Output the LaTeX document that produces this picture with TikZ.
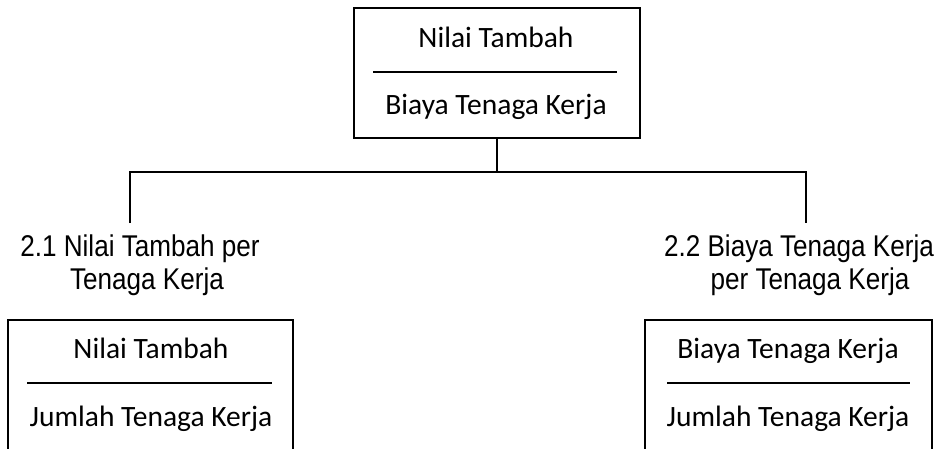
\documentclass[tikz,border=0pt]{standalone}
\usepackage{fontspec}
\setmainfont{Carlito}
\newfontfamily\labfont[FakeStretch=0.87]{Liberation Sans}
\tikzset{
  boxtext/.style={inner sep=0pt, anchor=base, font=\fontsize{29.5}{33}\selectfont},
  labtext/.style={inner sep=0pt, anchor=base, font=\labfont\fontsize{30}{33}\selectfont},
  frame/.style={draw, line width=1.3pt, rectangle, inner sep=0pt},
  conn/.style={line width=1.3pt},
  rulel/.style={line width=1.3pt}
}
\begin{document}
\begin{tikzpicture}[x=1pt,y=1pt]
\useasboundingbox (0,0) rectangle (940,-448);
\clip (0,0) rectangle (940,-448);
% top box
\node[frame, minimum width=286pt, minimum height=130pt] (top) at (497,-73) {};
\node[boxtext] (t1) at (496,-47) {Nilai Tambah};
\node[boxtext] (t2) at (496,-114) {Biaya Tenaga Kerja};
\coordinate (tr1) at (373,-72);
\coordinate (tr2) at (617,-72);
\draw[rulel] (tr1) -- (tr2);
% connectors
\coordinate (jc) at (497,-172);
\coordinate (jl) at (130,-172);
\coordinate (jr) at (806,-172);
\coordinate (el) at (130,-223);
\coordinate (er) at (806,-223);
\draw[conn] (top.south) -- (jc);
\draw[conn] (el) -- (jl) -- (jr) -- (er);
% labels
\node[labtext] (l1a) at (140,-256) {2.1 Nilai Tambah per};
\node[labtext] (l1b) at (147,-289) {Tenaga Kerja};
\node[labtext] (l2a) at (799,-256) {2.2 Biaya Tenaga Kerja};
\node[labtext] (l2b) at (810,-289) {per Tenaga Kerja};
% left bottom box
\node[frame, minimum width=285pt, minimum height=160pt] (bl) at (150.5,-400) {};
\node[boxtext] (b1) at (151,-358) {Nilai Tambah};
\node[boxtext] (b2) at (151,-426) {Jumlah Tenaga Kerja};
\coordinate (br1) at (27,-383);
\coordinate (br2) at (272,-383);
\draw[rulel] (br1) -- (br2);
% right bottom box
\node[frame, minimum width=287pt, minimum height=160pt] (brx) at (788.5,-400) {};
\node[boxtext] (c1) at (788,-358) {Biaya Tenaga Kerja};
\node[boxtext] (c2) at (788,-426) {Jumlah Tenaga Kerja};
\coordinate (cr1) at (667,-383);
\coordinate (cr2) at (910,-383);
\draw[rulel] (cr1) -- (cr2);
\end{tikzpicture}
\end{document}
